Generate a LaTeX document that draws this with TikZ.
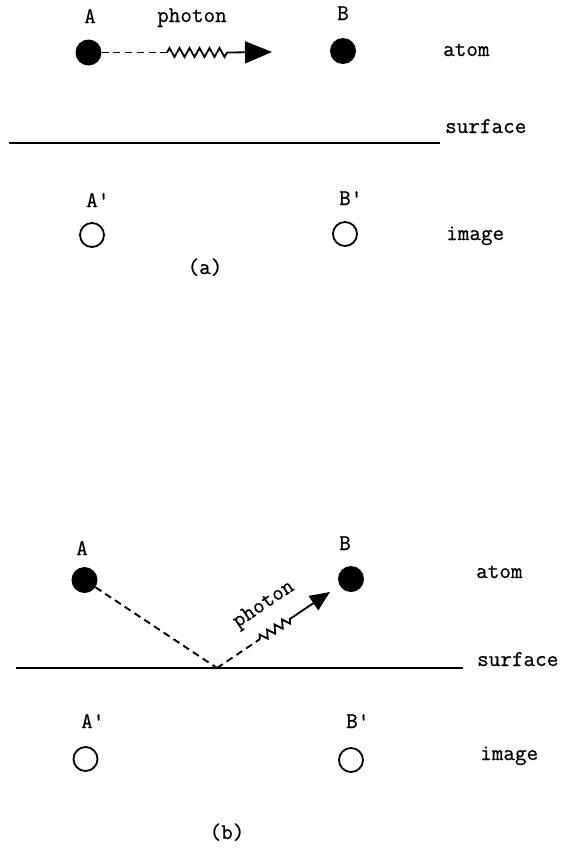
\documentclass[tikz,border=0pt]{standalone}
\usepackage{fontspec}
\newfontfamily\twfont{Latin Modern Mono}[FakeBold=0.6]
\usetikzlibrary{arrows.meta,decorations.pathmorphing,calc}
\begin{document}
\begin{tikzpicture}[x=1pt,y=-1pt,
  dot/.style={circle,fill=black,inner sep=0pt,minimum size=26pt},
  img/.style={circle,draw=black,line width=1.8pt,inner sep=0pt,minimum size=24pt},
  lbl/.style={font=\twfont\fontsize{22.5}{26}\selectfont,inner sep=0pt,anchor=base west},
  lblc/.style={font=\twfont\fontsize{22.5}{26}\selectfont,inner sep=0pt,anchor=base},
  dsh/.style={line width=1.9pt,dash pattern=on 7pt off 4.7pt},
  zig/.style={line width=1.8pt,decorate,decoration={zigzag,segment length=10pt,amplitude=4.5pt}},
  zigs/.style={line width=1.8pt,decorate,decoration={zigzag,segment length=9pt,amplitude=4pt}},
  arr/.style={line width=1.8pt,-{Triangle[length=27pt,width=22pt]}},
  arrs/.style={line width=1.8pt,-{Triangle[length=20pt,width=17pt]}},
  surf/.style={line width=1.6pt}]
\useasboundingbox (0,0) rectangle (563,852);
% ---- (a)
\node[dot] (A) at (88.5,52.5) {};
\node[dot] (B) at (343,51) {};
\node[lbl] (lA) at (84,23) {A};
\node[lbl] (lph) at (157,22) {photon};
\node[lbl] (lB) at (337,20) {B};
\node[lbl] (atom) at (443,56) {atom};
\coordinate (z1) at (167,52.5);
\coordinate (z2) at (227,52.5);
\coordinate (tip) at (272,52);
\draw[dsh] (A.east) -- (z1);
\draw[zig] (z1) -- (z2);
\draw[arr] (z2) -- (tip);
\coordinate (s1) at (9,143);
\coordinate (s2) at (440,143);
\draw[surf] (s1) -- (s2);
\node[lbl] (surf) at (445,133) {surface};
\node[lbl] (lAp) at (86,207) {A\textquotesingle};
\node[lbl] (lBp) at (339,205) {B\textquotesingle};
\node[img] (Ap) at (92,235) {};
\node[img] (Bp) at (345,234) {};
\node[lbl] (img) at (446,240) {image};
\node[lblc] (capa) at (205,274) {(a)};
% ---- (b)
\node[dot] (A2) at (84.5,580) {};
\node[dot] (B2) at (351,579) {};
\node[lbl] (lA2) at (76,555) {A};
\node[lbl] (lB2) at (339,550) {B};
\node[lbl] (atom2) at (476,578) {atom};
\coordinate (R) at (217,668);
\coordinate (tip2) at (330,592);
\draw[dsh] (A2) -- (R);
\coordinate (z3) at ($(R)!0.38!(tip2)$);
\coordinate (z4) at ($(R)!0.67!(tip2)$);
\draw[dsh] (R) -- (z3);
\draw[zigs] (z3) -- (z4);
\draw[arrs] (z4) -- (tip2);
\node[font=\twfont\fontsize{22.5}{26}\selectfont,inner sep=0pt,rotate=34] (lph2) at (264,605) {photon};
\coordinate (t1) at (16,668);
\coordinate (t2) at (463,668);
\draw[surf] (t1) -- (t2);
\node[lbl] (surf2) at (477,666) {surface};
\node[lbl] (lAp2) at (81,728) {A\textquotesingle};
\node[lbl] (lBp2) at (346,728) {B\textquotesingle};
\node[img] (Ap2) at (85.5,759) {};
\node[img] (Bp2) at (351,760) {};
\node[lbl] (img2) at (480,760) {image};
\node[lblc] (capb) at (227,839) {(b)};
\end{tikzpicture}
\end{document}
